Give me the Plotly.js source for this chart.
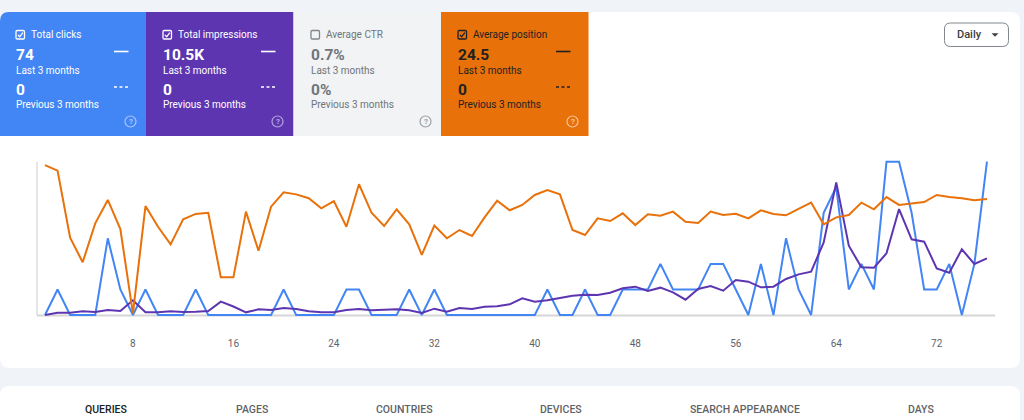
<!DOCTYPE html>
<html>
<head>
<meta charset="utf-8">
<script src="https://cdn.plot.ly/plotly-3.0.1.min.js"></script>
<style>
  html, body { margin: 0; padding: 0; background: #f0f4f9; }
  #chart { width: 1024px; height: 420px; }
</style>
</head>
<body>
<div id="chart"></div>
<script>
// ---- Daily performance data (days 1..76) ----
const days = [1,2,3,4,5,6,7,8,9,10,11,12,13,14,15,16,17,18,19,20,21,22,23,24,25,26,27,28,29,30,
  31,32,33,34,35,36,37,38,39,40,41,42,43,44,45,46,47,48,49,50,51,52,53,54,55,56,57,58,59,60,
  61,62,63,64,65,66,67,68,69,70,71,72,73,74,75,76];

const clicks = [0,1,0,0,0,3,1,0,1,0,0,0,1,0,0,
  0,0,0,0,1,0,0,0,0,1,1,0,0,0,1,
  0,1,0,0,0,0,0,0,0,0,1,0,0,1,0,
  0,1,1,1,2,1,1,1,2,2,1,0,2,0,3,
  1,0,4,5,1,2,1,6,6,4,1,1,2,0,2,6];

const impressions = [0,14,14,22,18,30,24,88,16,16,22,18,20,24,80,
  51,16,34,30,42,36,22,16,16,30,36,28,30,34,28,
  12,38,20,42,36,50,52,64,100,80,88,102,116,122,120,
  134,160,170,144,164,136,92,156,174,146,210,200,166,170,216,
  244,260,436,796,416,286,284,370,636,454,440,280,254,394,306,340];

const position = [1.6,4.5,39.5,52.3,32.0,19.8,35.0,79.0,23.0,33.8,43.0,29.9,27.1,26.5,60.2,
  60.2,25.9,46.3,23.3,15.8,16.9,18.9,24.2,20.4,33.8,11.6,26.5,33.4,24.7,32.5,
  48.5,33.2,39.8,35.5,38.6,28.9,20.2,25.2,22.4,17.2,14.6,16.9,35.5,38.1,29.4,
  30.8,26.8,32.9,27.3,28.0,25.9,31.2,31.8,25.9,27.7,27.0,29.4,25.2,27.1,27.8,
  24.5,21.2,32.5,28.9,27.7,21.2,24.7,18.3,22.4,21.8,20.9,17.2,18.3,18.9,20.0,19.3];

const tickDays = [8,16,24,32,40,48,56,64,72];
const tickLabels = ['8','16','24','32','40','48','56','64','72'];

// ---- Metric summary cards ----
const metricNames = ['Total clicks','Total impressions','Average CTR','Average position'];
const currentValues = ['74','10.5K','0.7%','24.5'];
const previousValues = ['0','0','0%','0'];
const metricChecked = [true,true,false,true];
const periodLabels = ['Last 3 months','Previous 3 months'];

const tabNames = ['QUERIES','PAGES','COUNTRIES','DEVICES','SEARCH APPEARANCE','DAYS'];

// ---- Styling ----
const W = 1024, H = 420;
const FONT = 'Roboto, Arial, sans-serif';
const COLORS = { clicks: '#4285f4', impressions: '#5e35b1', ctr: '#f1f3f4', position: '#e8710a' };
const cardStyle = [
  { bg: COLORS.clicks, fg: '#ffffff', sub: '#ffffff', box: '#ffffff', help: 'rgba(255,255,255,0.55)' },
  { bg: COLORS.impressions, fg: '#ffffff', sub: '#ffffff', box: '#ffffff', help: 'rgba(255,255,255,0.55)' },
  { bg: COLORS.ctr, fg: '#70757a', sub: '#70757a', box: '#80868b', help: '#9aa0a6' },
  { bg: COLORS.position, fg: '#202124', sub: '#202124', box: '#202124', help: 'rgba(255,255,255,0.6)' }
];
const cardBounds = [[0,146],[146,293.5],[293.5,441],[441,588.5]];
const cardOrigin = [-1,146,294,441];

// pixel -> paper helpers
const fx = x => x / W;
const fy = y => 1 - y / H;
const P = (x, y) => fx(x).toFixed(5) + ',' + fy(y).toFixed(5);

function roundRect(x0, y0, x1, y1, r) {
  const [tl, tr, br, bl] = r;
  return 'M' + P(x0 + tl, y0) + 'L' + P(x1 - tr, y0) + 'Q' + P(x1, y0) + ' ' + P(x1, y0 + tr) +
    'L' + P(x1, y1 - br) + 'Q' + P(x1, y1) + ' ' + P(x1 - br, y1) +
    'L' + P(x0 + bl, y1) + 'Q' + P(x0, y1) + ' ' + P(x0, y1 - bl) +
    'L' + P(x0, y0 + tl) + 'Q' + P(x0, y0) + ' ' + P(x0 + tl, y0) + 'Z';
}

const shapes = [];
const annotations = [];

function pathShape(path, fill, lineColor, lineWidth, dash) {
  shapes.push({ type: 'path', xref: 'paper', yref: 'paper', path: path, layer: 'below',
    fillcolor: fill || 'rgba(0,0,0,0)',
    line: { color: lineColor || 'rgba(0,0,0,0)', width: lineWidth || 0, dash: dash || 'solid' } });
}
function lineShape(x0, y0, x1, y1, color, width, dash) {
  shapes.push({ type: 'line', xref: 'paper', yref: 'paper', layer: 'below',
    x0: fx(x0), y0: fy(y0), x1: fx(x1), y1: fy(y1),
    line: { color: color, width: width, dash: dash || 'solid' } });
}
function text(x, y, t, size, color, anchor, weight) {
  annotations.push({ xref: 'paper', yref: 'paper', x: fx(x), y: fy(y), text: t,
    showarrow: false, xanchor: anchor || 'left', yanchor: 'middle', borderpad: 0,
    font: { family: FONT, size: size, color: color, weight: weight || 400 } });
}

// main panel and tab panel
pathShape(roundRect(0, 12, 1020, 368, [10,10,10,10]), '#ffffff');
pathShape(roundRect(0, 386, 1020, 440, [10,10,0,0]), '#ffffff');

// metric cards
metricNames.forEach((name, i) => {
  const [a, b] = cardBounds[i];
  const s = cardStyle[i];
  const o = cardOrigin[i];
  pathShape(roundRect(a, 12, b, 136, [i === 0 ? 9 : 0, 0, 0, 0]), s.bg);
  // checkbox
  pathShape(roundRect(o + 17, 30.5, o + 25.5, 39, [1.2,1.2,1.2,1.2]), null, s.box, 1.3);
  if (metricChecked[i]) {
    pathShape('M' + P(o + 18.8, 34.9) + 'L' + P(o + 20.7, 36.8) + 'L' + P(o + 23.8, 32.6), null, s.box, 1.3);
  }
  text(o + 30.5, 34.5, name, 10, s.fg, 'left', 400);
  text(o + 16, 55.5, '<b>' + currentValues[i] + '</b>', 15.5, s.fg, 'left', 700);
  text(o + 16, 70.5, periodLabels[0], 10, s.sub, 'left', 400);
  text(o + 16, 89.5, '<b>' + previousValues[i] + '</b>', 15.5, s.fg, 'left', 700);
  text(o + 16, 104.5, periodLabels[1], 10, s.sub, 'left', 400);
  if (metricChecked[i]) {
    lineShape(o + 115, 51.5, o + 129.5, 51.5, s.fg, 1.6);
    lineShape(o + 115, 87, o + 129.5, 87, s.fg, 1.6, '3px,2.5px');
  }
  // help icon
  shapes.push({ type: 'circle', xref: 'paper', yref: 'paper', layer: 'below',
    x0: fx(o + 126), x1: fx(o + 137), y0: fy(127), y1: fy(116),
    line: { color: s.help, width: 1.2 } });
  text(o + 131.5, 121.8, '?', 8, s.help, 'center', 700);
});

// granularity selector
pathShape(roundRect(944.5, 23, 1008.5, 46.5, [6,6,6,6]), '#ffffff', '#80868b', 1);
text(955.5, 34.8, 'Daily', 11, '#3c4043', 'left', 500);
pathShape('M' + P(991.5, 33.2) + 'L' + P(998.5, 33.2) + 'L' + P(995, 36.8) + 'Z', '#3c4043');

// axis lines of the chart
lineShape(37, 162, 37, 315, '#cccccc', 1);
lineShape(37, 315.5, 995, 315.5, '#d6d6d6', 2);

// bottom tabs
const tabCenters = [106, 252, 404, 561, 745, 921];
tabNames.forEach((t, i) => {
  text(tabCenters[i], 409.5, t, 10.5, i === 0 ? '#202124' : '#5f6368', 'center', 500);
});

// ---- axes: each metric on its own hidden scale ----
const plotTop = 158, plotBottom = 318;
function rangeFor(v0, y0, v1, y1) {
  const k = (v1 - v0) / (y1 - y0);
  return [v0 + (plotBottom - y0) * k, v0 + (plotTop - y0) * k];
}
const hiddenAxis = (range, extra) => Object.assign({
  domain: [fy(plotBottom), fy(plotTop)], range: range, visible: false,
  showgrid: false, zeroline: false, fixedrange: true
}, extra || {});

const traces = [
  { x: days, y: clicks, yaxis: 'y', name: 'Clicks', type: 'scatter', mode: 'lines',
    line: { color: COLORS.clicks, width: 2 }, hoverinfo: 'skip' },
  { x: days, y: impressions, yaxis: 'y2', name: 'Impressions', type: 'scatter', mode: 'lines',
    line: { color: COLORS.impressions, width: 2 }, hoverinfo: 'skip' },
  { x: days, y: position, yaxis: 'y3', name: 'Position', type: 'scatter', mode: 'lines',
    line: { color: COLORS.position, width: 2 }, hoverinfo: 'skip' }
];

const layout = {
  width: W, height: H,
  margin: { l: 0, r: 0, t: 0, b: 0 },
  paper_bgcolor: '#f0f4f9',
  plot_bgcolor: 'rgba(0,0,0,0)',
  showlegend: false,
  font: { family: FONT },
  xaxis: {
    domain: [fx(37), fx(995)], range: [0.363, 76.64],
    showgrid: false, zeroline: false, showline: false, ticks: '',
    tickvals: tickDays, ticktext: tickLabels,
    tickfont: { family: FONT, size: 10, color: '#5f6368' },
    ticklabelstandoff: 18, fixedrange: true
  },
  yaxis: hiddenAxis(rangeFor(0, 315, 6, 161.7)),
  yaxis2: hiddenAxis(rangeFor(0, 315, 920, 161.7), { overlaying: 'y' }),
  yaxis3: hiddenAxis(rangeFor(0, 162, 80, 315.3), { overlaying: 'y' }),
  shapes: shapes,
  annotations: annotations
};

Plotly.newPlot('chart', traces, layout, { staticPlot: true, displayModeBar: false });
</script>
</body>
</html>
